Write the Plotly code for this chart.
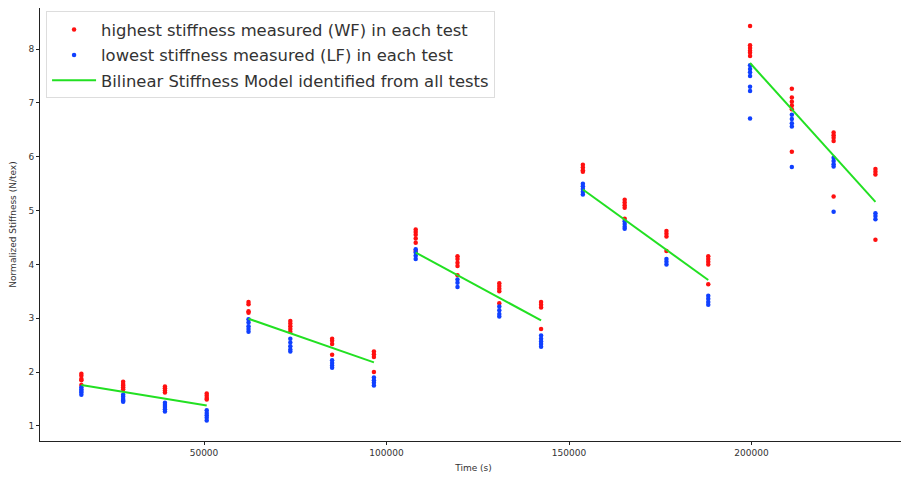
import plotly.graph_objects as go

# Test times (s)
test_times = [16400, 27850, 39300, 50750, 62200, 73650, 85100, 96550,
              108000, 119450, 130900, 142350, 153800, 165250, 176700, 188150,
              199600, 211050, 222500, 233950]

# highest stiffness measured (WF) in each test
wf_values = [
    [1.97, 1.93, 1.87, 1.85, 1.76],
    [1.82, 1.78, 1.75, 1.72, 1.68],
    [1.73, 1.70, 1.66, 1.62],
    [1.60, 1.56, 1.52, 1.49],
    [3.30, 3.26, 3.13, 3.10],
    [2.95, 2.90, 2.85, 2.80, 2.75],
    [2.62, 2.58, 2.52, 2.32],
    [2.38, 2.33, 2.28, 2.00],
    [4.65, 4.60, 4.55, 4.48, 4.40, 4.25],
    [4.15, 4.10, 4.03, 3.97, 3.80],
    [3.65, 3.60, 3.55, 3.50, 3.28],
    [3.30, 3.25, 3.20, 2.80],
    [5.85, 5.80, 5.75, 5.72],
    [5.20, 5.15, 5.10, 5.05, 4.85],
    [4.62, 4.57, 4.52, 4.25],
    [4.15, 4.10, 4.05, 4.00, 3.63],
    [8.43, 8.07, 8.02, 7.97, 7.93, 7.87],
    [7.26, 7.10, 7.02, 6.95, 6.88, 6.09],
    [6.45, 6.40, 6.35, 6.29, 5.26],
    [5.77, 5.72, 5.67, 4.46],
]

# lowest stiffness measured (LF) in each test
lf_values = [
    [1.72, 1.68, 1.65, 1.62, 1.58],
    [1.58, 1.54, 1.50, 1.47, 1.45],
    [1.43, 1.39, 1.35, 1.31, 1.27],
    [1.29, 1.24, 1.20, 1.15, 1.10],
    [2.98, 2.92, 2.85, 2.80, 2.75],
    [2.62, 2.55, 2.48, 2.42, 2.38],
    [2.22, 2.17, 2.12, 2.08],
    [1.90, 1.85, 1.80, 1.75],
    [4.28, 4.22, 4.16, 4.10],
    [3.72, 3.66, 3.58],
    [3.22, 3.15, 3.08, 3.03],
    [2.68, 2.62, 2.57, 2.52, 2.47],
    [5.50, 5.45, 5.40, 5.35, 5.30],
    [4.80, 4.75, 4.70, 4.66],
    [4.10, 4.05, 4.00],
    [3.42, 3.36, 3.30, 3.25],
    [7.70, 7.63, 7.57, 7.50, 7.30, 7.22, 6.71],
    [6.78, 6.70, 6.62, 6.56, 5.81],
    [5.98, 5.92, 5.86, 5.82, 4.98],
    [4.95, 4.90, 4.84],
]

# Bilinear stiffness model segments (None separates groups)
model_t = [16400, 50750, None, 62200, 96550, None, 108000, 142350, None,
           153800, 188150, None, 199600, 233950]
model_v = [1.76, 1.38, None, 2.99, 2.18, None, 4.22, 2.96, None,
           5.39, 3.71, None, 7.74, 5.16]

def flatten(times, groups):
    xs, ys = [], []
    for t, g in zip(times, groups):
        for v in g:
            xs.append(t)
            ys.append(v)
    return xs, ys

wx, wy = flatten(test_times, wf_values)
lx, ly = flatten(test_times, lf_values)

fig = go.Figure()
fig.add_trace(go.Scatter(x=wx, y=wy, mode="markers", legendgroup="a",
                         marker=dict(color="#ff1010", size=4.5),
                         name="highest stiffness measured (WF) in each test"))
fig.add_trace(go.Scatter(x=lx, y=ly, mode="markers", legendgroup="b",
                         marker=dict(color="#1040ff", size=4.5),
                         name="lowest stiffness measured (LF) in each test"))
fig.add_trace(go.Scatter(x=model_t, y=model_v, mode="lines", legendgroup="c",
                         line=dict(color="#22e022", width=2),
                         connectgaps=False,
                         name="Bilinear Stiffness Model identified from all tests"))

axis_common = dict(showline=True, linecolor="#222222", linewidth=1, mirror=True,
                   ticks="outside", ticklen=3, tickcolor="#222222",
                   showgrid=False, zeroline=False, automargin=False,
                   tickfont=dict(family="DejaVu Sans", size=9, color="#333333"))

# The page body adds an 8 px offset, so the figure is sized to fit the window.
fig.update_layout(
    width=901, height=469,
    margin=dict(l=32, r=2, t=0, b=36),
    plot_bgcolor="white", paper_bgcolor="white",
    font=dict(family="DejaVu Sans", color="#333333"),
    showlegend=True,
    legend=dict(x=0.007, y=0.992, xanchor="left", yanchor="top",
                bgcolor="rgba(255,255,255,0.9)", bordercolor="#dddddd", borderwidth=1,
                font=dict(family="DejaVu Sans", size=16.4, color="#333333"),
                itemwidth=44, traceorder="grouped", tracegroupgap=1),
    xaxis=dict(range=[5070, 242600], tickvals=[50000, 100000, 150000, 200000],
               ticktext=["50000", "100000", "150000", "200000"],
               title=dict(text="Time (s)", font=dict(size=9), standoff=7),
               **axis_common),
    yaxis=dict(range=[0.72, 8.762], tickvals=[1, 2, 3, 4, 5, 6, 7, 8],
               title=dict(text="Normalized Stiffness (N/tex)", font=dict(size=9), standoff=12),
               **axis_common),
)

fig.write_html("out.html")
